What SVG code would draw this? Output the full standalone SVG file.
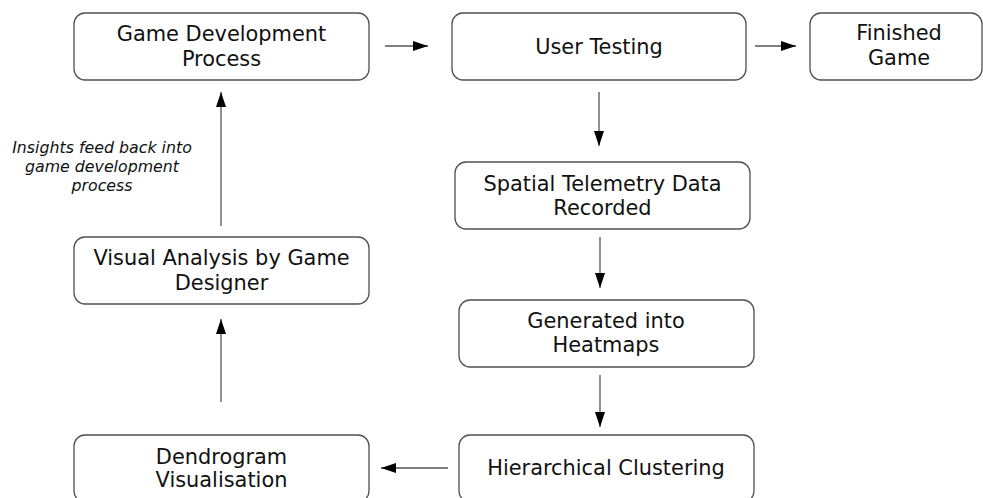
<svg xmlns="http://www.w3.org/2000/svg" width="983" height="498" viewBox="0 0 983 498">
<defs>
<style>
.box{fill:#fff;stroke:#505050;stroke-width:1.3}
.t{font-family:"DejaVu Sans",sans-serif;font-size:20.9px;fill:#111;text-anchor:middle}
.lbl{font-family:"DejaVu Sans",sans-serif;font-size:15.8px;font-style:italic;fill:#111;text-anchor:middle}
.c{stroke:#555;stroke-width:1.3;fill:none;marker-end:url(#ah)}
</style>
<marker id="ah" markerUnits="userSpaceOnUse" markerWidth="16" markerHeight="12" refX="15" refY="5" orient="auto">
<polygon points="0,0 15,5 0,10" fill="#000"/>
</marker>
</defs>
<rect width="983" height="498" fill="#fff"/>
<g id="connectors">
<line class="c" x1="385" y1="46" x2="428" y2="46"/>
<line class="c" x1="755" y1="46" x2="796" y2="46"/>
<line class="c" x1="599" y1="92" x2="599" y2="146"/>
<line class="c" x1="600" y1="237" x2="600" y2="288"/>
<line class="c" x1="600" y1="375" x2="600" y2="427"/>
<line class="c" x1="448" y1="468" x2="381" y2="468"/>
<line class="c" x1="221" y1="402" x2="221" y2="319"/>
<line class="c" x1="221" y1="226" x2="221" y2="92"/>
<text class="lbl" x="102" y="153">Insights feed back into</text>
<text class="lbl" x="102" y="172">game development</text>
<text class="lbl" x="102" y="191">process</text>
</g>
<g id="gdp">
<rect class="box" x="74" y="13" width="295" height="67" rx="11"/>
<text class="t" x="221.5" y="41">Game Development</text>
<text class="t" x="221.5" y="66">Process</text>
</g>
<g id="ut">
<rect class="box" x="452" y="13" width="294" height="67" rx="11"/>
<text class="t" x="599" y="54">User Testing</text>
</g>
<g id="fg">
<rect class="box" x="810" y="13" width="172" height="67" rx="11"/>
<text class="t" x="899" y="40">Finished</text>
<text class="t" x="899" y="65">Game</text>
</g>
<g id="std">
<rect class="box" x="455" y="162" width="295" height="67" rx="11"/>
<text class="t" x="602.5" y="191">Spatial Telemetry Data</text>
<text class="t" x="602.5" y="215">Recorded</text>
</g>
<g id="gih">
<rect class="box" x="459" y="300" width="295" height="67" rx="11"/>
<text class="t" x="606" y="328">Generated into</text>
<text class="t" x="606" y="352">Heatmaps</text>
</g>
<g id="hc">
<rect class="box" x="459" y="435" width="295" height="67" rx="11"/>
<text class="t" x="606" y="475">Hierarchical Clustering</text>
</g>
<g id="dv">
<rect class="box" x="74" y="435" width="295" height="67" rx="11"/>
<text class="t" x="221.5" y="463.5">Dendrogram</text>
<text class="t" x="221.5" y="487">Visualisation</text>
</g>
<g id="va">
<rect class="box" x="74" y="237" width="295" height="67" rx="11"/>
<text class="t" x="221.5" y="265">Visual Analysis by Game</text>
<text class="t" x="221.5" y="289.5">Designer</text>
</g>
</svg>
